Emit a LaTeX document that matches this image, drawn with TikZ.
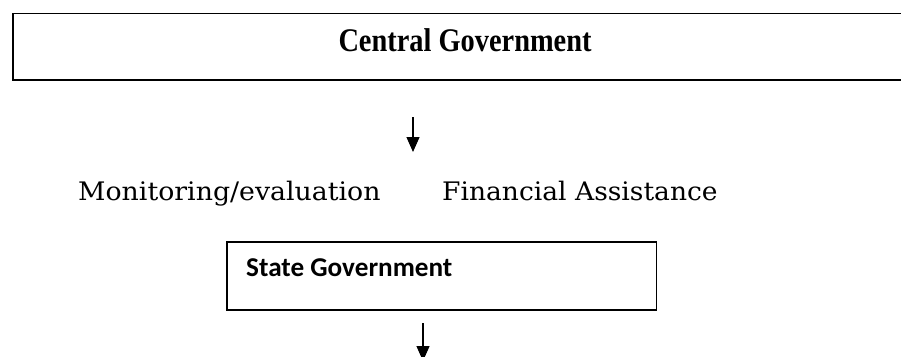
\documentclass[tikz,border=0pt]{standalone}
\usepackage{fontspec}
\setmainfont{Liberation Serif}
\newfontfamily\schfont{DejaVu Serif}
\newfontfamily\calfont{Carlito}
\usetikzlibrary{arrows.meta}
\tikzset{
  boxline/.style={draw=black, line width=1.5pt, fill=none},
  arr/.style={line width=1.2pt, -{Triangle[length=15pt,width=13pt]}},
  cgfont/.style={font=\fontsize{33}{36}\selectfont\bfseries, inner sep=0pt},
  lblfont/.style={font=\schfont\fontsize{25.5}{28}\selectfont, inner sep=0pt},
  sgfont/.style={font=\calfont\fontsize{27.2}{30}\selectfont\bfseries, inner sep=0pt}
}
\begin{document}
\begin{tikzpicture}[x=1pt,y=-1pt]
\useasboundingbox (0,0) rectangle (901,356);
\clip (0,0) rectangle (901,356);
% Central Government box (runs off the right edge)
\node[boxline, minimum width=900pt, minimum height=66.5pt, anchor=north west, inner sep=0pt] (cgbox) at (12,12.5) {};
\node[cgfont, anchor=base, xscale=0.86] (cgtext) at (465,51) {Central Government};
% arrow 1
\coordinate (a1s) at (413,117);
\coordinate (a1e) at (413,152);
\draw[arr] (a1s) -- (a1e);
% labels
\node[lblfont, anchor=base west, xscale=1.05] (mon) at (78,200) {Monitoring/evaluation};
\node[lblfont, anchor=base west, xscale=1.04] (fin) at (442,200) {Financial Assistance};
% State Government box
\node[boxline, minimum width=429.5pt, minimum height=68pt, anchor=north west, inner sep=0pt] (sgbox) at (226,241) {};
\node[sgfont, anchor=base west] (sgtext) at (246,276) {State Government};
% arrow 2
\coordinate (a2s) at (423,323);
\coordinate (a2e) at (423,361);
\draw[arr] (a2s) -- (a2e);
\end{tikzpicture}
\end{document}
